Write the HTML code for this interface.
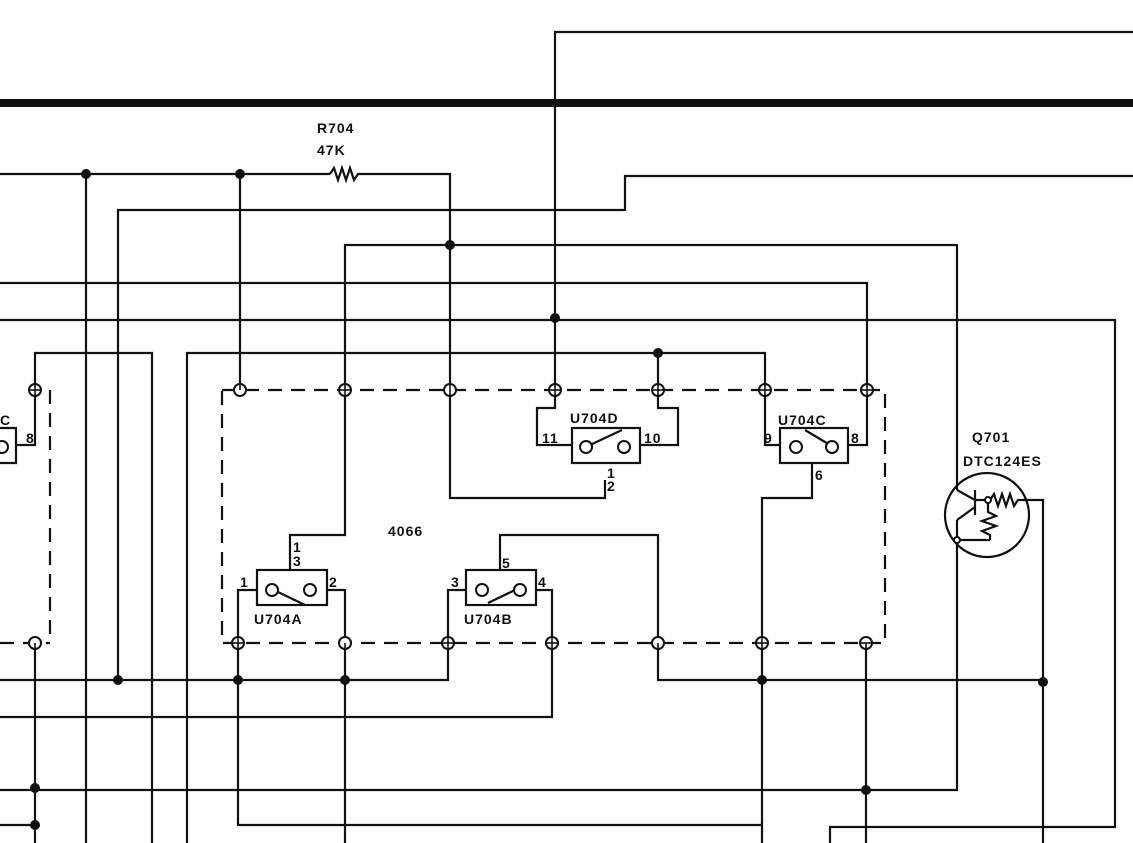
<!DOCTYPE html>
<html><head><meta charset="utf-8"><style>
html,body{margin:0;padding:0;background:#fff;width:1133px;height:843px;overflow:hidden}
svg{display:block}
text{font-family:"Liberation Sans",sans-serif;font-weight:bold;font-size:14px;fill:#111;letter-spacing:1px}
</style></head><body>
<svg width="1133" height="843" viewBox="0 0 1133 843" xmlns="http://www.w3.org/2000/svg">
<g stroke="#111" stroke-width="2.2" fill="none">
<line x1="0" y1="103" x2="1133" y2="103" stroke-width="8"/>
<polyline points="1133,32 555,32 555,390"/>
<polyline points="0,174 330,174"/>
<polyline points="330,174 334,168 338,180 342,168 346,180 350,168 354,180 358,174 362,174 450,174 450,498 605,498 605,480"/>
<polyline points="118,680 118,210 625,210 625,176 1133,176"/>
<polyline points="957,490 957,245 345,245 345,535 290,535 290,570"/>
<polyline points="0,283 867,283 867,390"/>
<polyline points="0,320 1115,320 1115,827 830,827 830,843"/>
<polyline points="35,390 35,353 152,353 152,843"/>
<polyline points="187,843 187,353 765,353 765,390"/>
<line x1="240" y1="174" x2="240" y2="390"/>
<line x1="658" y1="353" x2="658" y2="390"/>
<line x1="86" y1="174" x2="86" y2="843"/>
<g stroke-dasharray="14,9">
<rect x="222" y="390" width="663" height="253"/>
<line x1="50" y1="390" x2="50" y2="643"/>
<line x1="0" y1="643" x2="50" y2="643"/>
</g>
<rect x="572" y="428" width="68" height="35"/>
<polyline points="555,390 555,408 537,408 537,445 572,445"/>
<polyline points="658,390 658,408 678,408 678,445 640,445"/>
<line x1="590" y1="445" x2="622" y2="430"/>
<rect x="780" y="428" width="68" height="35"/>
<polyline points="765,390 765,445 780,445"/>
<polyline points="867,390 867,445 848,445"/>
<line x1="805" y1="430" x2="830" y2="445"/>
<polyline points="812,463 812,498 762,498 762,843"/>
<polyline points="0,428 16,428 16,463 0,463"/>
<polyline points="35,390 35,445 16,445"/>
<rect x="257" y="570" width="70" height="35"/>
<polyline points="257,590 238,590 238,825 762,825"/>
<polyline points="327,590 345,590 345,843"/>
<line x1="278" y1="592" x2="305" y2="605"/>
<rect x="466" y="570" width="70" height="35"/>
<polyline points="466,590 448,590 448,680 0,680"/>
<polyline points="536,590 552,590 552,717 0,717"/>
<polyline points="500,570 500,535 658,535 658,680 1043,680"/>
<line x1="488" y1="603" x2="515" y2="590"/>
<polyline points="0,790 957,790 957,540"/>
<line x1="866" y1="643" x2="866" y2="843"/>
<line x1="35" y1="643" x2="35" y2="843"/>
<line x1="0" y1="825" x2="35" y2="825"/>
<polyline points="1043,843 1043,500 1025,500"/>
<circle cx="987" cy="515" r="42"/>
<line x1="957" y1="490" x2="975" y2="500"/>
<line x1="975" y1="490" x2="975" y2="515"/>
<line x1="975" y1="507" x2="957" y2="520"/>
<polyline points="957,520 957,540 990,540"/>
<polyline points="975,500 990,500 994,494 998,506 1002,494 1006,506 1010,494 1014,506 1018,500 1025,500"/>
<polyline points="988,500 988,512 996,516 982,521 996,526 982,531 990,535 990,540"/>
</g>
<g stroke="#111" stroke-width="2" fill="#fff">
<circle cx="586" cy="447" r="6"/><circle cx="624" cy="447" r="6"/>
<circle cx="796" cy="447" r="6"/><circle cx="832" cy="447" r="6"/>
<circle cx="272" cy="590" r="6"/><circle cx="310" cy="590" r="6"/>
<circle cx="482" cy="590" r="6"/><circle cx="520" cy="590" r="6"/>
<circle cx="2" cy="447" r="6"/>
<circle cx="240" cy="390" r="6"/><circle cx="345" cy="390" r="6"/><circle cx="450" cy="390" r="6"/>
<circle cx="555" cy="390" r="6"/><circle cx="658" cy="390" r="6"/><circle cx="765" cy="390" r="6"/><circle cx="867" cy="390" r="6"/>
<circle cx="238" cy="643" r="6"/><circle cx="345" cy="643" r="6"/><circle cx="448" cy="643" r="6"/>
<circle cx="552" cy="643" r="6"/><circle cx="658" cy="643" r="6"/><circle cx="762" cy="643" r="6"/><circle cx="866" cy="643" r="6"/>
<circle cx="35" cy="390" r="6"/><circle cx="35" cy="643" r="6"/>
<circle cx="957" cy="540" r="3"/><circle cx="988" cy="500" r="3"/>
</g>
<g stroke="#111" stroke-width="1.6">
<line x1="339" y1="390" x2="351" y2="390"/><line x1="345" y1="384" x2="345" y2="396"/>
<line x1="549" y1="390" x2="561" y2="390"/><line x1="555" y1="384" x2="555" y2="396"/>
<line x1="652" y1="390" x2="664" y2="390"/><line x1="658" y1="384" x2="658" y2="396"/>
<line x1="759" y1="390" x2="771" y2="390"/><line x1="765" y1="384" x2="765" y2="396"/>
<line x1="861" y1="390" x2="873" y2="390"/><line x1="867" y1="384" x2="867" y2="396"/>
<line x1="29" y1="390" x2="41" y2="390"/><line x1="35" y1="384" x2="35" y2="396"/>
<line x1="450" y1="384" x2="450" y2="396"/><line x1="240" y1="384" x2="240" y2="390"/>
<line x1="232" y1="643" x2="244" y2="643"/><line x1="238" y1="637" x2="238" y2="649"/>
<line x1="442" y1="643" x2="454" y2="643"/><line x1="448" y1="637" x2="448" y2="649"/>
<line x1="546" y1="643" x2="558" y2="643"/><line x1="552" y1="637" x2="552" y2="649"/>
<line x1="756" y1="643" x2="768" y2="643"/><line x1="762" y1="637" x2="762" y2="649"/>
<line x1="860" y1="643" x2="872" y2="643"/><line x1="866" y1="643" x2="866" y2="649"/>
<line x1="345" y1="643" x2="345" y2="649"/><line x1="658" y1="643" x2="658" y2="649"/><line x1="35" y1="643" x2="35" y2="649"/>
</g>
<g fill="#111">
<circle cx="86" cy="174" r="5"/><circle cx="240" cy="174" r="5"/><circle cx="450" cy="245" r="5"/>
<circle cx="555" cy="318" r="5"/><circle cx="658" cy="353" r="5"/>
<circle cx="118" cy="680" r="5"/><circle cx="238" cy="680" r="5"/><circle cx="345" cy="680" r="5"/>
<circle cx="762" cy="680" r="5"/><circle cx="1043" cy="682" r="5"/>
<circle cx="35" cy="788" r="5"/><circle cx="866" cy="790" r="5"/><circle cx="35" cy="825" r="5"/>
</g>
<text x="317" y="133">R704</text>
<text x="317" y="155">47K</text>
<text x="388" y="536">4066</text>
<text x="570" y="423">U704D</text>
<text x="778" y="425">U704C</text>
<text x="254" y="624">U704A</text>
<text x="464" y="624">U704B</text>
<text x="542" y="443" font-size="13">11</text>
<text x="644" y="443" font-size="13">10</text>
<text x="764" y="443" font-size="13">9</text>
<text x="851" y="443" font-size="13">8</text>
<text x="26" y="443" font-size="13">8</text>
<text x="0" y="425" font-size="13">C</text>
<text x="815" y="480" font-size="13">6</text>
<text x="607" y="478" font-size="11">1</text>
<text x="607" y="491" font-size="11">2</text>
<text x="293" y="552" font-size="11">1</text>
<text x="293" y="566" font-size="11">3</text>
<text x="240" y="587" font-size="13">1</text>
<text x="329" y="587" font-size="13">2</text>
<text x="451" y="587" font-size="13">3</text>
<text x="538" y="587" font-size="13">4</text>
<text x="502" y="568" font-size="13">5</text>
<text x="972" y="442">Q701</text>
<text x="963" y="466">DTC124ES</text>
</svg>
</body></html>
